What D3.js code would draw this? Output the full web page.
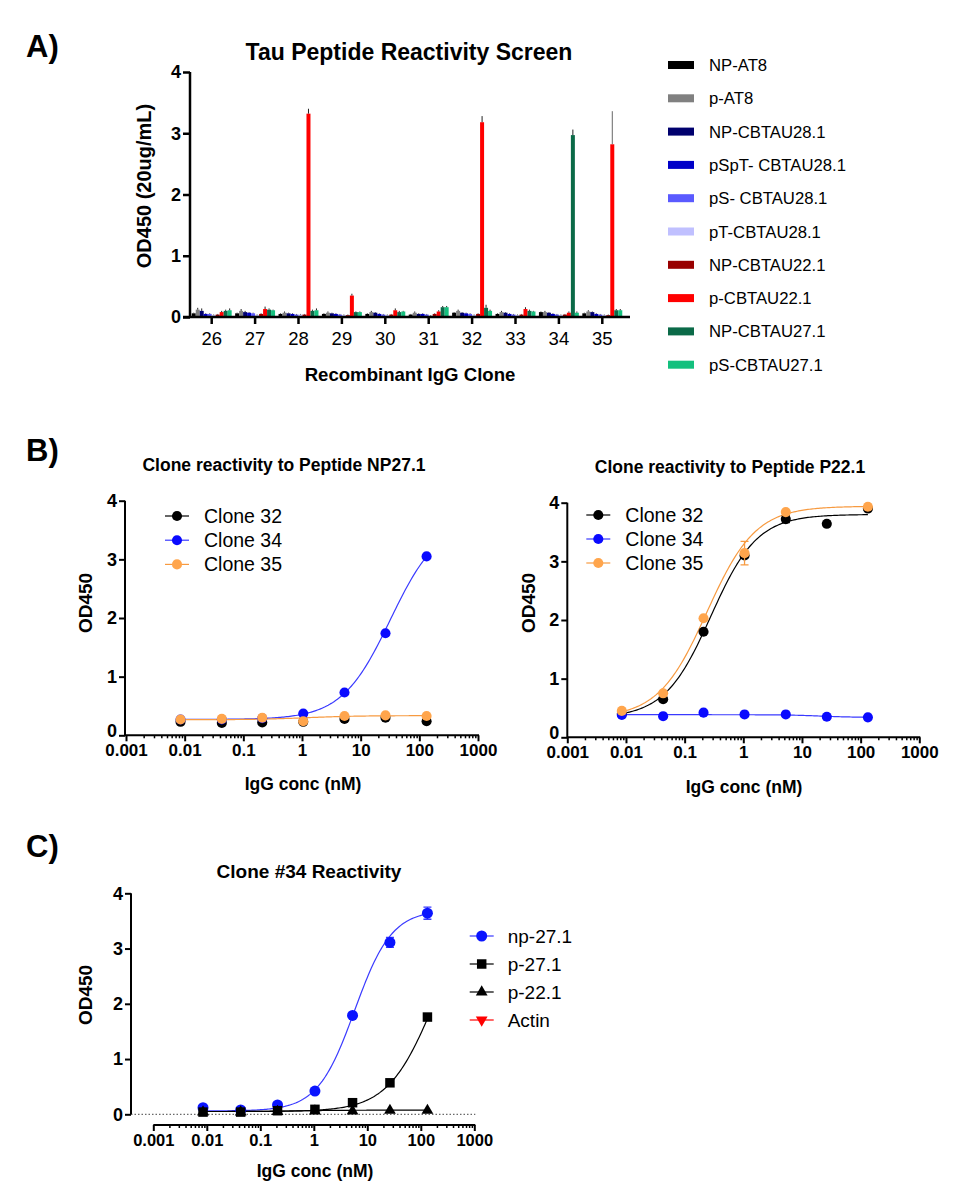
<!DOCTYPE html>
<html>
<head>
<meta charset="utf-8">
<script src="https://cdn.jsdelivr.net/npm/d3@7"></script>
<style>
  body { margin: 0; background: #fff; }
  svg { display: block; font-family: "Liberation Sans", Arial, sans-serif; }
</style>
</head>
<body>
<svg id="fig" width="971" height="1200"></svg>
<script>
// ---- panel A data ----
var clonesA = ["26", "27", "28", "29", "30", "31", "32", "33", "34", "35"];
var peptidesA = ["NP-AT8", "p-AT8", "NP-CBTAU28.1", "pSpT- CBTAU28.1", "pS- CBTAU28.1",
  "pT-CBTAU28.1", "NP-CBTAU22.1", "p-CBTAU22.1", "NP-CBTAU27.1", "pS-CBTAU27.1"];
var peptideColors = ["#000000", "#808080", "#00006e", "#0000c8", "#5a5aff",
  "#c0c0ff", "#990000", "#ff0000", "#0b6a48", "#14c07e"];
// OD450 per clone, one value per peptide (same order as peptidesA)
var odA = [
  [0.06, 0.12, 0.10, 0.05, 0.05, 0.03, 0.04, 0.08, 0.10, 0.11],
  [0.06, 0.10, 0.08, 0.07, 0.06, 0.03, 0.05, 0.13, 0.12, 0.11],
  [0.05, 0.07, 0.06, 0.05, 0.04, 0.04, 0.04, 3.32, 0.10, 0.11],
  [0.05, 0.07, 0.06, 0.05, 0.04, 0.03, 0.03, 0.35, 0.08, 0.08],
  [0.05, 0.08, 0.07, 0.05, 0.04, 0.03, 0.04, 0.11, 0.08, 0.09],
  [0.04, 0.07, 0.05, 0.05, 0.04, 0.02, 0.05, 0.09, 0.16, 0.16],
  [0.07, 0.10, 0.07, 0.06, 0.05, 0.03, 0.05, 3.18, 0.15, 0.10],
  [0.05, 0.08, 0.07, 0.05, 0.04, 0.03, 0.04, 0.13, 0.10, 0.09],
  [0.08, 0.08, 0.07, 0.05, 0.04, 0.03, 0.04, 0.07, 2.97, 0.07],
  [0.06, 0.09, 0.08, 0.05, 0.04, 0.03, 0.03, 2.82, 0.11, 0.11]
];
var errA = [
  [0.01, 0.03, 0.04, 0.01, 0.01, 0.01, 0.01, 0.02, 0.02, 0.03],
  [0.01, 0.03, 0.02, 0.01, 0.01, 0.01, 0.01, 0.04, 0.02, 0.01],
  [0.01, 0.02, 0.01, 0.01, 0.01, 0.01, 0.01, 0.08, 0.02, 0.03],
  [0.01, 0.02, 0.01, 0.01, 0.01, 0.01, 0.01, 0.03, 0.01, 0.01],
  [0.01, 0.02, 0.01, 0.01, 0.01, 0.01, 0.01, 0.03, 0.02, 0.01],
  [0.01, 0.02, 0.01, 0.01, 0.01, 0.01, 0.01, 0.02, 0.02, 0.02],
  [0.01, 0.02, 0.01, 0.01, 0.01, 0.01, 0.01, 0.10, 0.05, 0.02],
  [0.01, 0.02, 0.01, 0.01, 0.01, 0.01, 0.01, 0.03, 0.02, 0.01],
  [0.01, 0.02, 0.01, 0.01, 0.01, 0.01, 0.01, 0.02, 0.09, 0.02],
  [0.01, 0.02, 0.01, 0.01, 0.01, 0.01, 0.01, 0.54, 0.02, 0.02]
];
var yTicks = [0, 1, 2, 3, 4];
var logTicks = [0.001, 0.01, 0.1, 1, 10, 100, 1000];

// ---- dilution series (nM) ----
var concNM = [0.0085, 0.043, 0.21, 1.05, 5.3, 26.5, 133];

// ---- panel B left: peptide NP27.1 ----
var np271Clone32 = [0.23, 0.21, 0.22, 0.23, 0.28, 0.30, 0.24];
var np271Clone34 = [0.27, 0.27, 0.29, 0.37, 0.73, 1.74, 3.05];
var np271Clone35 = [0.27, 0.28, 0.30, 0.24, 0.33, 0.34, 0.33];
// ---- panel B right: peptide P22.1 ----
var p221Clone32 = [0.40, 0.65, 1.80, 3.10, 3.72, 3.64, 3.90];
var p221Clone34 = [0.38, 0.36, 0.42, 0.39, 0.39, 0.35, 0.34];
var p221Clone35 = [0.45, 0.75, 2.03, 3.14, 3.84, null, 3.93];
var p221Clone32Err = [0, 0, 0, 0, 0.06, 0, 0];
var p221Clone35Err = [0, 0, 0, 0.20, 0, 0, 0];
// ---- panel C: clone 34 ----
var c34np271 = [0.12, 0.08, 0.17, 0.42, 1.79, 3.11, 3.64];
var c34np271Err = [0, 0, 0, 0.02, 0.03, 0.09, 0.11];
var c34p271 = [0.04, 0.04, 0.065, 0.09, 0.21, 0.57, 1.76];
var c34p221 = [0.04, 0.04, 0.05, 0.06, 0.06, 0.07, 0.07];
var c34actin = [];

// fitted 4PL curves: [bottom, top, EC50 nM, hill]
var fitNp271Clone34 = [0.27, 3.67, 32, 1.05];
var fitNp271Clone35 = [0.265, 0.335, 1.2, 1.0];
var fitP221Clone32 = [0.33, 3.80, 0.28, 1.1];
var fitP221Clone34 = [0.385, 0.34, 20, 1.5];
var fitP221Clone35 = [0.33, 3.94, 0.24, 1.05];
var fitC34np271 = [0.06, 3.70, 5.8, 1.25];
var fitC34p271 = [0.05, 4.0, 180, 1.0];
var fitC34p221 = [0.05, 0.075, 0.5, 1.0];

var svg = d3.select("#fig");
var FONT = "'Liberation Sans', Arial, sans-serif";

function panelLetter(txt, x, y){
  svg.append("text").attr("x", x).attr("y", y).attr("font-size", 31)
    .attr("font-weight", "bold").text(txt);
}

// ================= Panel A =================
function drawBars(){
  var g = svg.append("g").attr("class", "panelA");
  var x = d3.scaleBand().domain(clonesA).range([190, 624]).paddingInner(0.08).paddingOuter(0.04);
  var xi = d3.scaleBand().domain(d3.range(peptidesA.length)).range([0, x.bandwidth()]);
  var y = d3.scaleLinear().domain([0, 4]).range([317, 72]);

  var groups = g.selectAll(".grp").data(clonesA).enter().append("g")
    .attr("transform", function(d){ return "translate(" + x(d) + ",0)"; });
  groups.each(function(c, ci){
    var gg = d3.select(this);
    var rows = odA[ci].map(function(v, i){ return {v: v, e: errA[ci][i], i: i}; });
    gg.selectAll("rect").data(rows).enter().append("rect")
      .attr("x", function(d){ return xi(d.i); })
      .attr("width", xi.bandwidth())
      .attr("y", function(d){ return y(d.v); })
      .attr("height", function(d){ return y(0) - y(d.v); })
      .attr("fill", function(d){ return peptideColors[d.i]; });
    gg.selectAll("line.err").data(rows).enter().append("line").attr("class", "err")
      .attr("x1", function(d){ return xi(d.i) + xi.bandwidth() / 2; })
      .attr("x2", function(d){ return xi(d.i) + xi.bandwidth() / 2; })
      .attr("y1", function(d){ return y(d.v); })
      .attr("y2", function(d){ return y(d.v + d.e); })
      .attr("stroke", function(d){ return d.e > 0.3 ? "#666" : "#222"; })
      .attr("stroke-width", 1);
  });

  // axes
  var ya = g.append("g").attr("transform", "translate(190,0)")
    .call(d3.axisLeft(y).tickValues(yTicks).tickSize(7).tickFormat(d3.format("d")));
  ya.select(".domain").attr("stroke-width", 2.5).attr("d", "M0," + y(4) + "V" + y(0));
  ya.selectAll(".tick line").attr("stroke-width", 2.5);
  ya.selectAll("text").attr("font-size", 18).attr("font-weight", "bold").attr("font-family", FONT).attr("x", -9);

  var xa = g.append("g").attr("transform", "translate(0,317)")
    .call(d3.axisBottom(x).tickSize(7).tickSizeOuter(0));
  xa.select(".domain").attr("stroke-width", 2.5).attr("d", "M183,0H630");
  xa.selectAll(".tick line").attr("stroke-width", 2.5);
  xa.selectAll("text").attr("font-size", 18.5).attr("font-family", FONT).attr("y", 15);

  g.append("text").attr("x", 409).attr("y", 60).attr("text-anchor", "middle")
    .attr("font-size", 23).attr("font-weight", "bold").text("Tau Peptide Reactivity Screen");
  g.append("text").attr("transform", "translate(151,186) rotate(-90)").attr("text-anchor", "middle")
    .attr("font-size", 20).attr("font-weight", "bold").text("OD450 (20ug/mL)");
  g.append("text").attr("x", 410).attr("y", 381).attr("text-anchor", "middle")
    .attr("font-size", 18.6).attr("font-weight", "bold").text("Recombinant IgG Clone");

  // legend
  var leg = g.selectAll(".leg").data(peptidesA).enter().append("g")
    .attr("transform", function(d, i){ return "translate(668," + (65 + i * 33.3) + ")"; });
  leg.append("rect").attr("x", 0).attr("y", -4).attr("width", 26).attr("height", 8)
    .attr("fill", function(d, i){ return peptideColors[i]; });
  leg.append("text").attr("x", 41).attr("y", 6).attr("font-size", 16.7).text(function(d){ return d; });
}

// ================= log dose-response panels =================
function curvePoints(p){
  var lo = concNM[0], hi = concNM[concNM.length - 1];
  return d3.range(0, 161).map(function(i){
    var c = lo * Math.pow(hi / lo, i / 160);
    return [c, p[0] + (p[1] - p[0]) / (1 + Math.pow(p[2] / c, p[3]))];
  });
}

function symbolPath(type, size){
  return d3.symbol().type(type).size(size)();
}

function drawLogPanel(cfg){
  var g = svg.append("g");
  var x = d3.scaleLog().domain([0.001, 1000]).range([cfg.x0, cfg.x1]);
  var y = d3.scaleLinear().domain([0, 4]).range([cfg.y0, cfg.y1]);
  var axesMeet = cfg.xAxisY === cfg.y0;

  if (cfg.zeroLine){
    g.append("line").attr("x1", cfg.yAxisX).attr("x2", cfg.x1 + 1).attr("y1", y(0)).attr("y2", y(0))
      .attr("stroke", "#444").attr("stroke-width", 1).attr("stroke-dasharray", "1.5 2");
  }

  // y axis
  var ya = g.append("g").attr("transform", "translate(" + cfg.yAxisX + ",0)")
    .call(d3.axisLeft(y).tickValues(yTicks).tickSize(6).tickFormat(d3.format("d")));
  ya.select(".domain").attr("stroke-width", 2).attr("d", "M0," + y(4) + "V" + y(0));
  ya.selectAll(".tick line").attr("stroke-width", 2);
  ya.selectAll("text").attr("font-size", 18).attr("font-weight", "bold").attr("font-family", FONT).attr("x", -8)
    .attr("dy", function(d){ return (d === 0 && axesMeet) ? "0.08em" : "0.32em"; });

  // x axis: minor ticks then major ticks with labels
  var minor = [];
  logTicks.slice(0, -1).forEach(function(t){
    for (var k = 2; k < 10; k++) minor.push(t * k);
  });
  var xMinor = g.append("g").attr("transform", "translate(0," + cfg.xAxisY + ")")
    .call(d3.axisBottom(x).tickValues(minor).tickSize(3).tickFormat(""));
  xMinor.select(".domain").remove();
  xMinor.selectAll(".tick line").attr("stroke-width", 1.5);
  var xa = g.append("g").attr("transform", "translate(0," + cfg.xAxisY + ")")
    .call(d3.axisBottom(x).tickValues(logTicks).tickSize(6).tickSizeOuter(0).tickFormat(d3.format("~g")));
  xa.select(".domain").attr("stroke-width", 2).attr("d", "M" + cfg.xAxisStart + ",0H" + (cfg.x1 + 1));
  xa.selectAll(".tick line").attr("stroke-width", 2);
  xa.selectAll("text").attr("font-size", cfg.xTickSize).attr("font-weight", "bold").attr("font-family", FONT).attr("y", 9);

  // fitted curves
  var line = d3.line().x(function(d){ return x(d[0]); }).y(function(d){ return y(d[1]); });
  cfg.series.forEach(function(s){
    if (s.fit) g.append("path").attr("d", line(curvePoints(s.fit))).attr("fill", "none")
      .attr("stroke", s.lineColor || s.color).attr("stroke-width", 1.2);
  });
  // error bars and points
  cfg.series.forEach(function(s){
    var pts = s.values.map(function(v, i){ return {c: concNM[i], v: v, e: s.err ? s.err[i] : 0}; })
      .filter(function(d){ return d.v !== null; });
    var eb = pts.filter(function(d){ return d.e > 0; });
    g.selectAll(null).data(eb).enter().append("path")
      .attr("d", function(d){
        var cx = x(d.c), t = y(d.v + d.e), b = y(d.v - d.e);
        return "M" + (cx - 4) + "," + t + "H" + (cx + 4) + "M" + cx + "," + t + "V" + b + "M" + (cx - 4) + "," + b + "H" + (cx + 4);
      })
      .attr("stroke", s.lineColor || s.color).attr("stroke-width", 1.3).attr("fill", "none");
    g.selectAll(null).data(pts).enter().append("path")
      .attr("transform", function(d){ return "translate(" + x(d.c) + "," + y(d.v) + ")" + (s.flip ? " rotate(180)" : ""); })
      .attr("d", symbolPath(s.symbol, s.size))
      .attr("fill", s.color);
  });

  // title and axis labels
  g.append("text").attr("x", cfg.titleX).attr("y", cfg.titleY).attr("text-anchor", "middle")
    .attr("font-size", cfg.titleSize).attr("font-weight", "bold").text(cfg.title);
  g.append("text").attr("transform", "translate(" + cfg.yLabelX + "," + cfg.yLabelY + ") rotate(-90)")
    .attr("text-anchor", "middle").attr("font-size", 19).attr("font-weight", "bold").text("OD450");
  g.append("text").attr("x", cfg.xLabelX).attr("y", cfg.xLabelY).attr("text-anchor", "middle")
    .attr("font-size", 17.5).attr("font-weight", "bold").text("IgG conc (nM)");

  // legend
  var legSeries = cfg.legendOrder.map(function(i){ return cfg.series[i]; });
  var leg = g.selectAll(".leg").data(legSeries).enter().append("g")
    .attr("transform", function(d, i){ return "translate(" + cfg.legX + "," + (cfg.legY + i * cfg.legDy) + ")"; });
  leg.append("line").attr("x1", -12).attr("x2", 12).attr("y1", 0).attr("y2", 0)
    .attr("stroke", function(d){ return d.lineColor || d.color; }).attr("stroke-width", 1.2);
  leg.append("path").attr("d", function(d){ return symbolPath(d.symbol, d.size); })
    .attr("transform", function(d){ return d.flip ? "rotate(180)" : null; })
    .attr("fill", function(d){ return d.color; });
  leg.append("text").attr("x", cfg.legTextDx).attr("y", 7).attr("font-size", cfg.legFont)
    .text(function(d){ return d.name; });
}

drawBars();
panelLetter("A)", 26, 57);
panelLetter("B)", 26, 461);
panelLetter("C)", 26, 857);

drawLogPanel({
  x0: 126, x1: 478, y0: 735.3, y1: 500.7, yAxisX: 125, xAxisY: 735.3, xAxisStart: 125, xTickSize: 17,
  title: "Clone reactivity to Peptide NP27.1", titleX: 284, titleY: 471, titleSize: 17.5,
  xLabelX: 303, xLabelY: 790, yLabelX: 92, yLabelY: 603,
  legX: 177, legY: 516, legDy: 24.2, legTextDx: 27, legFont: 19.5, legendOrder: [0, 1, 2],
  series: [
    {name: "Clone 32", values: np271Clone32, color: "#000", symbol: d3.symbolCircle, size: 80},
    {name: "Clone 34", values: np271Clone34, fit: fitNp271Clone34, color: "#0a0aff", lineColor: "#3a3aff", symbol: d3.symbolCircle, size: 80},
    {name: "Clone 35", values: np271Clone35, fit: fitNp271Clone35, color: "#ffa54c", lineColor: "#f79a40", symbol: d3.symbolCircle, size: 80}
  ]
});

drawLogPanel({
  x0: 567.3, x1: 919.3, y0: 737.3, y1: 502.7, yAxisX: 567.3, xAxisY: 737.3, xAxisStart: 567.3, xTickSize: 17,
  title: "Clone reactivity to Peptide P22.1", titleX: 730, titleY: 473, titleSize: 17.5,
  xLabelX: 744, xLabelY: 793, yLabelX: 535, yLabelY: 603,
  legX: 598.3, legY: 515, legDy: 24, legTextDx: 27, legFont: 19.5, legendOrder: [0, 1, 2],
  series: [
    {name: "Clone 32", values: p221Clone32, err: p221Clone32Err, fit: fitP221Clone32, color: "#000", symbol: d3.symbolCircle, size: 80},
    {name: "Clone 34", values: p221Clone34, fit: fitP221Clone34, color: "#0a0aff", lineColor: "#3a3aff", symbol: d3.symbolCircle, size: 80},
    {name: "Clone 35", values: p221Clone35, err: p221Clone35Err, fit: fitP221Clone35, color: "#ffa54c", lineColor: "#f79a40", symbol: d3.symbolCircle, size: 80}
  ]
});

drawLogPanel({
  x0: 153.3, x1: 474.3, y0: 1114.3, y1: 893.3, yAxisX: 131, xAxisY: 1125, xAxisStart: 153.3, xTickSize: 16.5, zeroLine: true,
  title: "Clone #34 Reactivity", titleX: 309, titleY: 878, titleSize: 19,
  xLabelX: 315, xLabelY: 1177, yLabelX: 92, yLabelY: 995,
  legX: 481.7, legY: 936, legDy: 28, legTextDx: 26, legFont: 19, legendOrder: [0, 2, 1, 3],
  series: [
    {name: "np-27.1", values: c34np271, err: c34np271Err, fit: fitC34np271, color: "#0a14ff", lineColor: "#3a3aff", symbol: d3.symbolCircle, size: 95},
    {name: "p-22.1", values: c34p221, fit: fitC34p221, color: "#000", symbol: d3.symbolTriangle, size: 60},
    {name: "p-27.1", values: c34p271, fit: fitC34p271, color: "#000", symbol: d3.symbolSquare, size: 90},
    {name: "Actin", values: c34actin, color: "#ff0000", symbol: d3.symbolTriangle, size: 60, flip: true}
  ]
});
</script>
</body>
</html>
